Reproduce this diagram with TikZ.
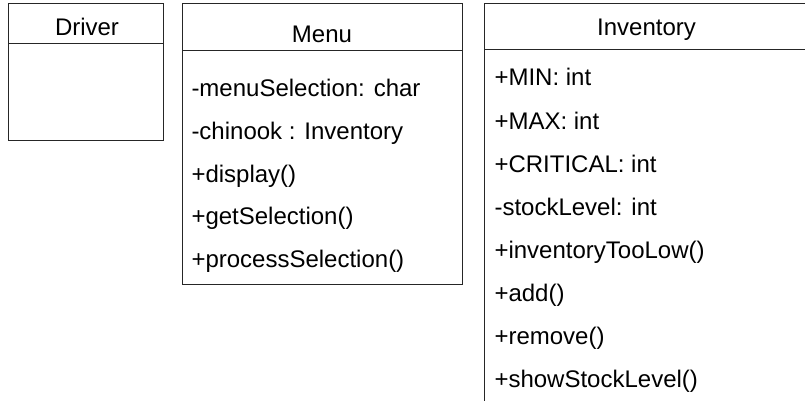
\documentclass[tikz,border=0pt]{standalone}
\usepackage{fontspec}
\setmainfont{Liberation Sans}
\begin{document}
\begin{tikzpicture}[x=1pt,y=-1pt,line width=1pt,
  cls/.style={draw=black!85, fill=white, inner sep=0pt, outer sep=0pt, anchor=north west},
  ctitle/.style={anchor=base, inner sep=0pt, font=\fontsize{24}{28}\selectfont},
  member/.style={anchor=base west, inner sep=0pt, font=\fontsize{24}{28}\selectfont}]
\useasboundingbox (0,0) rectangle (805,401);
\clip (0,0) rectangle (805,401);
% Driver
\node[cls, minimum width=155pt, minimum height=136pt] (driver) at (8,4) {};
\draw[draw=black!85] ([yshift=-40pt]driver.north west) -- ([yshift=-40pt]driver.north east);
\node[ctitle] (drivert) at (87,36) {Driver};
% Menu
\node[cls, minimum width=280pt, minimum height=280pt] (menu) at (182,4) {};
\draw[draw=black!85] ([yshift=-47pt]menu.north west) -- ([yshift=-47pt]menu.north east);
\node[ctitle] (menut) at (322,43) {Menu};
\node[member] (m1) at (191,97) {-menuSelection: char};
\node[member] (m2) at (191,139.6) {-chinook : Inventory};
\node[member] (m3) at (191,182.2) {+display()};
\node[member] (m4) at (191,224.8) {+getSelection()};
\node[member] (m5) at (191,267.4) {+processSelection()};
% Inventory
\node[cls, minimum width=325pt, minimum height=430pt] (inv) at (484,4) {};
\draw[draw=black!85] ([yshift=-46pt]inv.north west) -- ([yshift=-46pt]inv.north east);
\node[ctitle] (invt) at (646.5,36) {Inventory};
\node[member] (i1) at (494,86) {+MIN: int};
\node[member] (i2) at (494,129) {+MAX: int};
\node[member] (i3) at (494,172) {+CRITICAL: int};
\node[member] (i4) at (494,215) {-stockLevel: int};
\node[member] (i5) at (494,258) {+inventoryTooLow()};
\node[member] (i6) at (494,301) {+add()};
\node[member] (i7) at (494,344) {+remove()};
\node[member] (i8) at (494,387) {+showStockLevel()};
\end{tikzpicture}
\end{document}
